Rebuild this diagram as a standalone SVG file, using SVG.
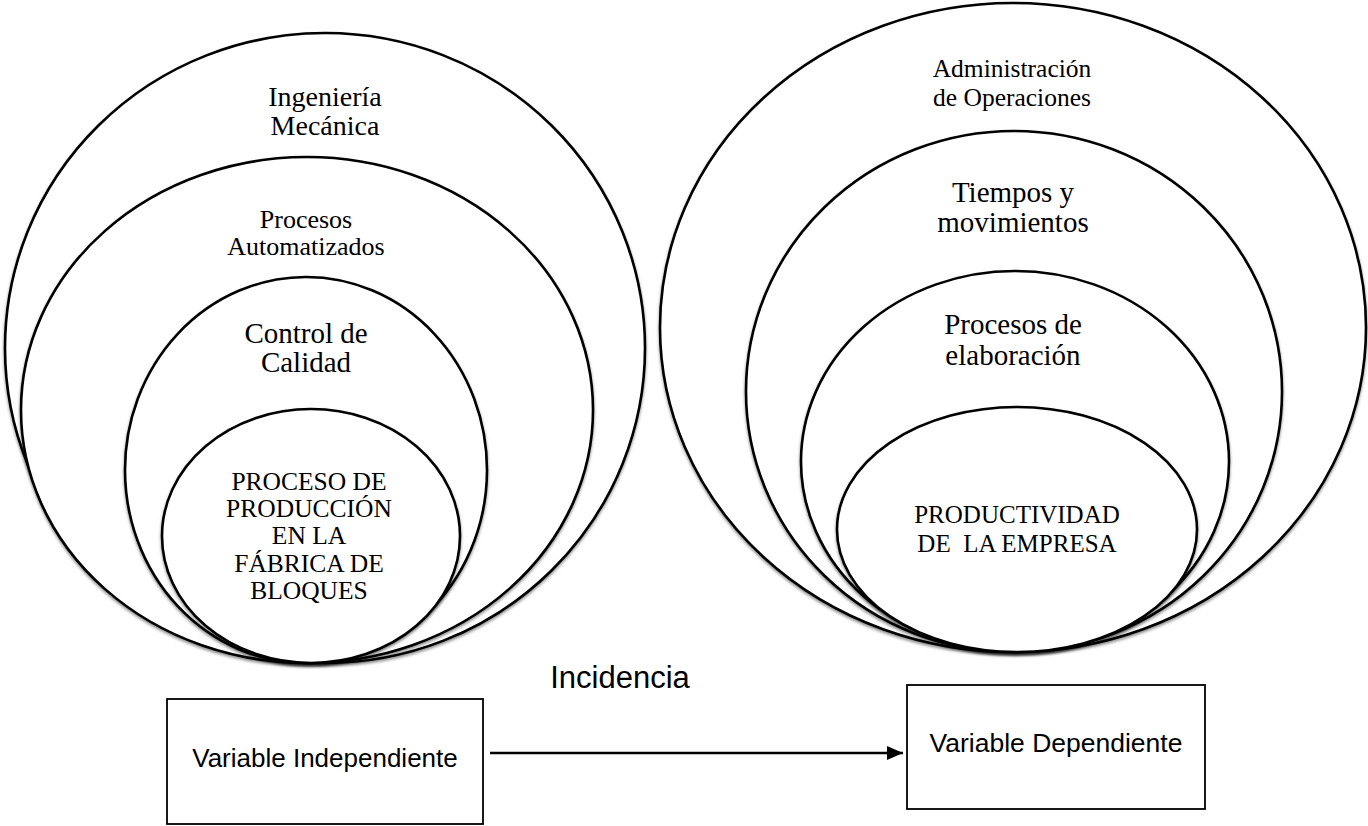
<svg xmlns="http://www.w3.org/2000/svg" width="1368" height="826" viewBox="0 0 1368 826">
  <style>
    .ring { fill: #ffffff; stroke: #000000; stroke-width: 2.6; filter: url(#soft); }
    .lbl { font-family: "Liberation Serif", "Times New Roman", serif; fill: #000000; text-anchor: middle; white-space: pre; }
    .box { fill: #ffffff; stroke: #000000; stroke-width: 1.8; }
    .sans { font-family: "Liberation Sans", Arial, sans-serif; fill: #000000; text-anchor: middle; }
    .link { stroke: #000000; stroke-width: 2.4; fill: none; }
  </style>
  <defs>
    <filter id="soft" x="-5%" y="-5%" width="110%" height="112%">
      <feDropShadow dx="0" dy="2" stdDeviation="1.6" flood-color="#000000" flood-opacity="0.45"/>
    </filter>
    <marker id="head" markerWidth="16" markerHeight="14" refX="16" refY="7" orient="auto" markerUnits="userSpaceOnUse">
      <path d="M0,0 L16,7 L0,14 Z" fill="#000000"/>
    </marker>
  </defs>
  <rect width="1368" height="826" fill="#ffffff"/>

  <!-- independent variable: nested fields -->
  <g id="ingenieria-mecanica">
    <ellipse class="ring" cx="325" cy="348" rx="320" ry="315"/>
    <text class="lbl" font-size="28" x="325" y="106">Ingeniería</text>
    <text class="lbl" font-size="28" x="325" y="135">Mecánica</text>
  </g>
  <g id="procesos-automatizados">
    <ellipse class="ring" cx="307" cy="410" rx="286" ry="253"/>
    <text class="lbl" font-size="26" x="306" y="228">Procesos</text>
    <text class="lbl" font-size="26" x="306" y="255">Automatizados</text>
  </g>
  <g id="control-calidad">
    <ellipse class="ring" cx="306" cy="470" rx="181" ry="193"/>
    <text class="lbl" font-size="29" x="306" y="343">Control de</text>
    <text class="lbl" font-size="29" x="306" y="372">Calidad</text>
  </g>
  <g id="proceso-produccion">
    <ellipse class="ring" cx="311" cy="536" rx="149" ry="127"/>
    <text class="lbl" font-size="25.5" x="309" y="490">PROCESO DE</text>
    <text class="lbl" font-size="25.5" x="309" y="517">PRODUCCIÓN</text>
    <text class="lbl" font-size="25.5" x="309" y="544">EN LA</text>
    <text class="lbl" font-size="25.5" x="309" y="572">FÁBRICA DE</text>
    <text class="lbl" font-size="25.5" x="309" y="599">BLOQUES</text>
  </g>

  <!-- dependent variable: nested fields -->
  <g id="administracion-operaciones">
    <ellipse class="ring" cx="1013" cy="327.5" rx="353" ry="324.5"/>
    <text class="lbl" font-size="25.5" x="1012" y="77">Administración</text>
    <text class="lbl" font-size="25.5" x="1012" y="106">de Operaciones</text>
  </g>
  <g id="tiempos-movimientos">
    <ellipse class="ring" cx="1014" cy="391.5" rx="268" ry="260.5"/>
    <text class="lbl" font-size="29" x="1013" y="202">Tiempos y</text>
    <text class="lbl" font-size="29" x="1013" y="232">movimientos</text>
  </g>
  <g id="procesos-elaboracion">
    <ellipse class="ring" cx="1015" cy="461.5" rx="214" ry="190.5"/>
    <text class="lbl" font-size="29" x="1013" y="334">Procesos de</text>
    <text class="lbl" font-size="29" x="1013" y="365">elaboración</text>
  </g>
  <g id="productividad">
    <ellipse class="ring" cx="1017" cy="529.5" rx="180" ry="122.5"/>
    <text class="lbl" font-size="25" x="1017" y="523">PRODUCTIVIDAD</text>
    <text class="lbl" font-size="25" x="1017" y="552">DE  LA EMPRESA</text>
  </g>

  <!-- variables -->
  <g id="variable-independiente">
    <rect class="box" x="167" y="699" width="316" height="125"/>
    <text class="sans" font-size="26" x="325" y="767">Variable Independiente</text>
  </g>
  <g id="variable-dependiente">
    <rect class="box" x="907" y="685" width="298" height="124"/>
    <text class="sans" font-size="26.5" x="1056" y="752">Variable Dependiente</text>
  </g>

  <g id="connectors">
    <line class="link" x1="490" y1="753" x2="903" y2="753" marker-end="url(#head)"/>
    <text class="sans" font-size="31" x="620" y="688">Incidencia</text>
  </g>
</svg>
